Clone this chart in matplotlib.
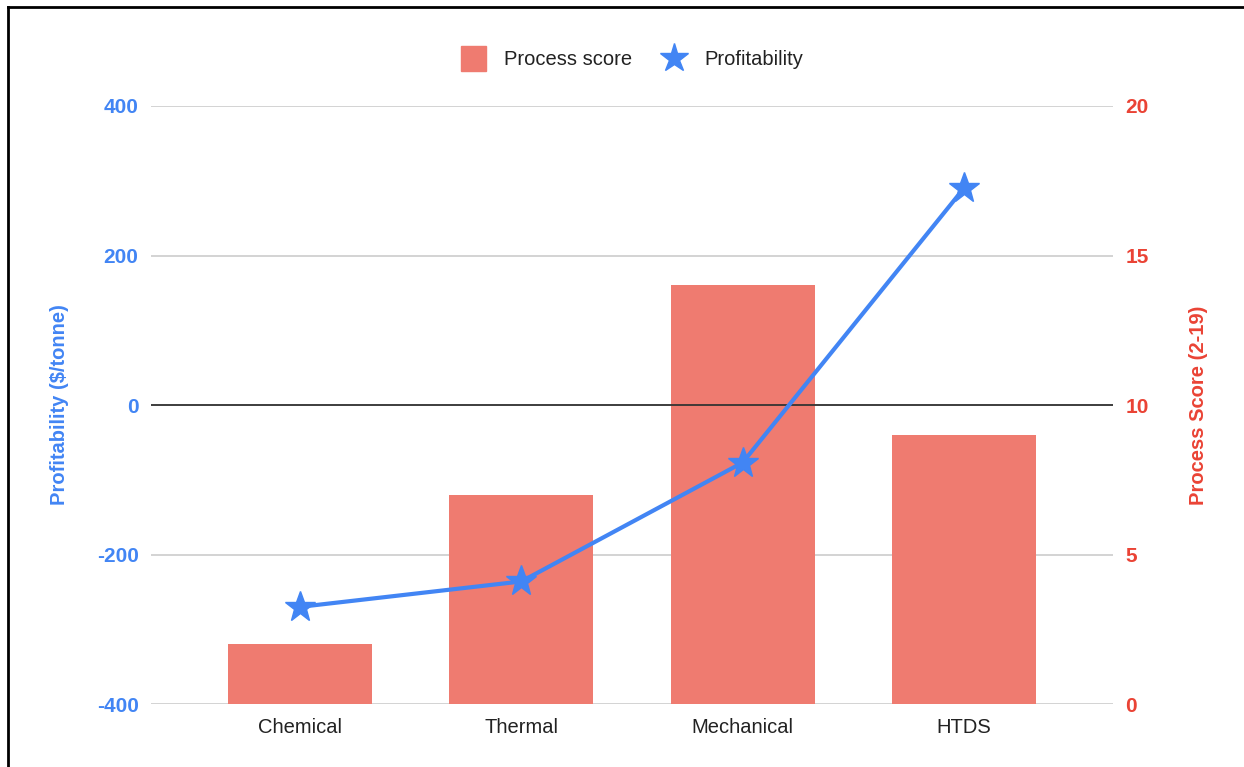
import matplotlib
matplotlib.use("Agg")
import matplotlib.pyplot as plt
from matplotlib.lines import Line2D

plt.rcParams['font.family'] = ['Liberation Sans', 'DejaVu Sans']

categories = ["Chemical", "Thermal", "Mechanical", "HTDS"]
process_score = [2, 7, 14, 9]
profitability = [-270, -236, -77, 290]

left_ticks = [-400, -200, 0, 200, 400]
right_ticks = [0, 5, 10, 15, 20]

BLUE = "#4285F4"
RED = "#EA4335"
BAR = "#EF7B70"
GRID = "#CCCCCC"

fig = plt.figure(figsize=(12.44, 7.67), dpi=100)
ax = fig.add_axes([0.1214, 0.0821, 0.7733, 0.7797])
ax2 = ax.twinx()

x = list(range(len(categories)))

# bars on the right-hand (score) axis, behind everything
ax2.bar(x, process_score, width=0.65, color=BAR, zorder=2)
ax2.set_ylim(0, 20)
ax2.set_yticks(right_ticks)
ax2.set_yticklabels([str(t) for t in right_ticks], color=RED, fontsize=15, fontweight='bold')
ax2.grid(axis='y', color=GRID, linewidth=1.2, zorder=0)
ax2.set_axisbelow(True)
ax2.tick_params(axis='y', length=0, pad=9)
ax2.set_ylabel("Process Score (2-19)", color=RED, fontsize=14.5, fontweight='bold', labelpad=29)

# profitability line on the left-hand axis, drawn above the bars
ax.set_zorder(ax2.get_zorder() + 1)
ax.patch.set_visible(False)
ax.axhline(0, color="#333333", linewidth=1.3, zorder=1)
ax.plot(x, profitability, color=BLUE, linewidth=3, marker='*', markersize=23,
        zorder=3, clip_on=False)
ax.set_ylim(-400, 400)
ax.set_yticks(left_ticks)
ax.set_yticklabels([str(t) for t in left_ticks], color=BLUE, fontsize=15, fontweight='bold')
ax.tick_params(axis='y', length=0, pad=9)
ax.set_ylabel("Profitability ($/tonne)", color=BLUE, fontsize=14.5, fontweight='bold', labelpad=20)

ax.set_xlim(-0.674, 3.674)
ax.set_xticks(x)
ax.set_xticklabels(categories, fontsize=14.5, color="#222222")
ax.tick_params(axis='x', length=0, pad=10)

for a in (ax, ax2):
    for s in a.spines.values():
        s.set_visible(False)

handles = [
    Line2D([], [], linestyle='none', marker='s', markersize=18, color=BAR),
    Line2D([], [], linestyle='none', marker='*', markersize=21, color=BLUE),
]
fig.legend(handles, ["Process score", "Profitability"], loc='center',
           bbox_to_anchor=(0.505, 0.922), ncol=2, frameon=False, fontsize=14.5,
           handletextpad=0.5, columnspacing=1.1, labelcolor="#222222")

# frame edges along the top and left of the canvas
fig.add_artist(Line2D([0.0064, 0.0064], [0, 0.9915], transform=fig.transFigure,
                      color='black', linewidth=2))
fig.add_artist(Line2D([0.0064, 1.0], [0.9915, 0.9915], transform=fig.transFigure,
                      color='black', linewidth=2))

fig.savefig("out.png", dpi=100)
